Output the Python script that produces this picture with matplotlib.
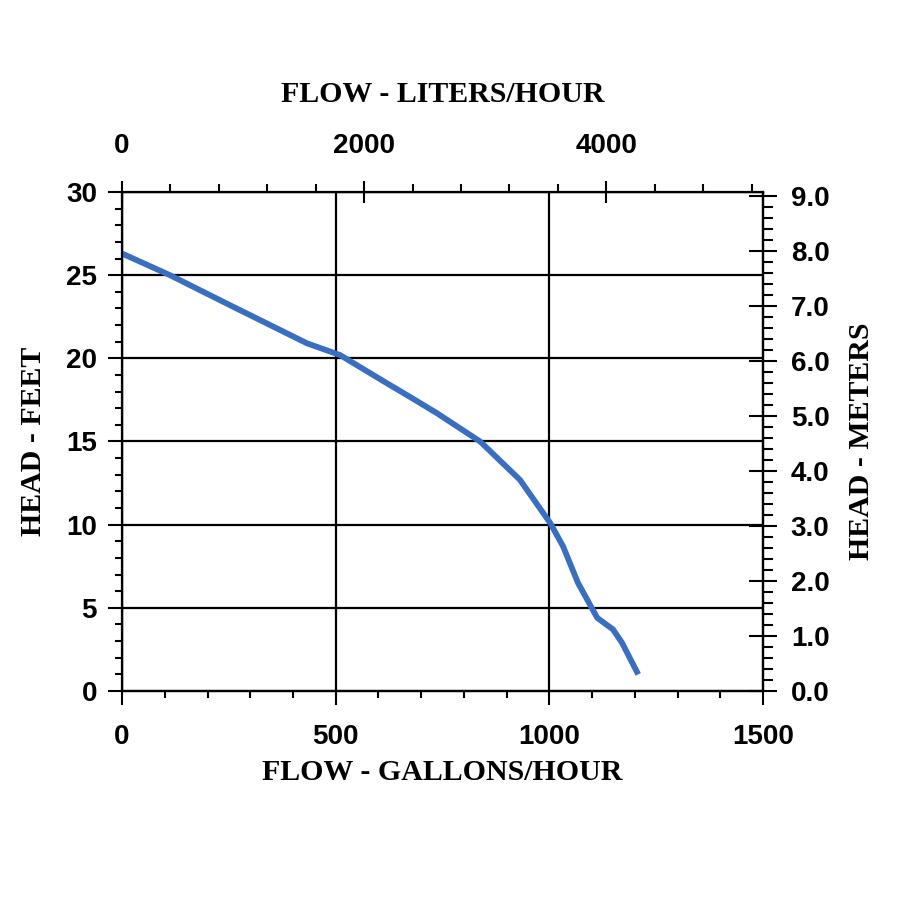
import numpy as np
import matplotlib
matplotlib.use("Agg")
from matplotlib import pyplot as plt
from matplotlib.ticker import MultipleLocator, FormatStrFormatter

# pump curve
flow_gph = [0, 112, 260, 433, 510, 620, 679, 737, 838, 931, 1002, 1032, 1067, 1112, 1149, 1170, 1208]
head_ft = [26.3, 25.0, 23.1, 20.9, 20.2, 18.5, 17.6, 16.7, 15.0, 12.7, 10.1, 8.7, 6.5, 4.4, 3.7, 2.9, 1.0]

gph_ticks = [0, 500, 1000, 1500]
lph_ticks = [0, 2000, 4000]
ft_ticks = [0, 5, 10, 15, 20, 25, 30]
m_ticks = [0, 1, 2, 3, 4, 5, 6, 7, 8, 9]

LPH_TOP = 5295   # liters/hour at 1500 gph as drawn
M_TOP = 9.07     # meters at 30 ft as drawn

tick_font = "Liberation Sans"
label_font = "Liberation Serif"
line_color = "#3a6ec0"

fig = plt.figure(figsize=(9, 9), dpi=100)
ax = fig.add_axes([0.1356, 0.2322, 0.7122, 0.5545])

ax.plot(flow_gph, head_ft, color=line_color, linewidth=4.2, solid_capstyle="butt",
        solid_joinstyle="round", zorder=5)

ax.set_xlim(0, 1500)
ax.set_ylim(0, 30)
ax.set_xticks(gph_ticks)
ax.set_yticks(ft_ticks)
ax.xaxis.set_minor_locator(MultipleLocator(100))
ax.yaxis.set_minor_locator(MultipleLocator(1))
ax.grid(True, which="major", color="black", linewidth=1.6)
ax.tick_params(which="major", direction="out", length=10, width=1.5, labelsize=20, pad=14)
ax.tick_params(which="minor", direction="out", length=5, width=1.5)
ax.tick_params(axis="y", which="major", pad=8)
for sp in ax.spines.values():
    sp.set_linewidth(1.6)
for lab in ax.get_xticklabels() + ax.get_yticklabels():
    lab.set_fontfamily(tick_font)
    lab.set_fontweight("bold")

ax.set_xlabel("FLOW - GALLONS/HOUR", fontfamily=label_font, fontweight="bold",
              fontsize=21.5, labelpad=6)
ax.set_ylabel("HEAD - FEET", fontfamily=label_font, fontweight="bold",
              fontsize=21.5, labelpad=14)

# top axis: liters/hour
top = ax.twiny()
top.set_xlim(0, LPH_TOP)
top.set_xticks(lph_ticks)
top.xaxis.set_minor_locator(MultipleLocator(400))
top.tick_params(which="major", direction="inout", length=16, width=1.5, labelsize=20, pad=16)
top.tick_params(which="minor", direction="out", length=6, width=1.5)
for lab in top.get_xticklabels():
    lab.set_fontfamily(tick_font)
    lab.set_fontweight("bold")
top.set_xlabel("FLOW - LITERS/HOUR", fontfamily=label_font, fontweight="bold",
               fontsize=21.5, labelpad=22)

# right axis: meters
right = ax.twinx()
right.set_ylim(0, M_TOP)
right.set_yticks(m_ticks)
right.yaxis.set_major_formatter(FormatStrFormatter("%.1f"))
right.yaxis.set_minor_locator(MultipleLocator(0.2))
right.tick_params(which="major", direction="inout", length=20, width=1.5, labelsize=20, pad=10)
right.tick_params(which="minor", direction="out", length=7, width=1.5)
for lab in right.get_yticklabels():
    lab.set_fontfamily(tick_font)
    lab.set_fontweight("bold")
right.set_ylabel("HEAD - METERS", fontfamily=label_font, fontweight="bold",
                 fontsize=21.5, rotation=90, labelpad=13)

fig.savefig("out.png", dpi=100, facecolor="white")
